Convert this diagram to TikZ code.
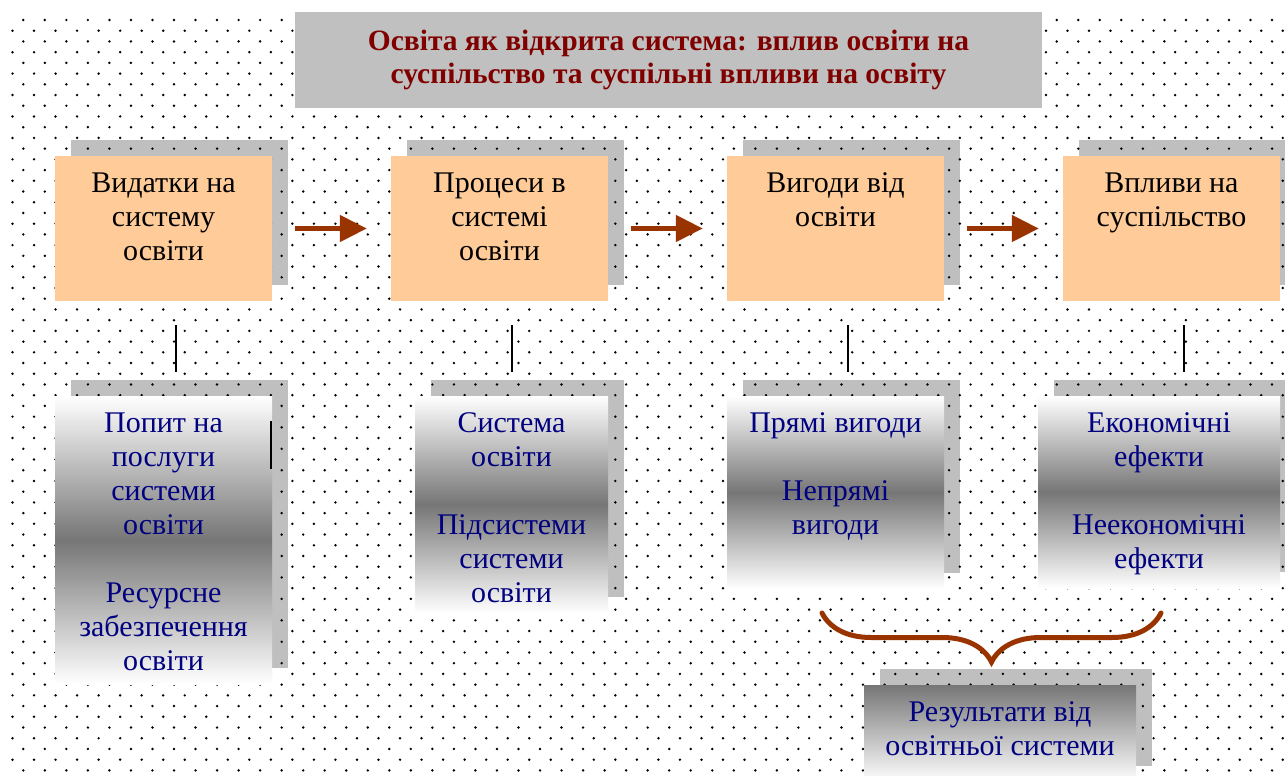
\documentclass[tikz,border=0pt]{standalone}
\usepackage{fontspec}
\setmainfont{Liberation Serif}
\usepackage{tikz}
\usetikzlibrary{arrows.meta,positioning,shadows,decorations.pathreplacing}
\definecolor{boxorange}{HTML}{FFCC99}
\definecolor{arrowbrown}{HTML}{993300}
\definecolor{titlered}{HTML}{800000}
\definecolor{textnavy}{HTML}{000080}
\definecolor{panelgray}{HTML}{C0C0C0}
\definecolor{midgray}{HTML}{767676}
\begin{document}
\begin{tikzpicture}[x=1pt,y=-1pt,node distance=336pt]
\tikzstyle{backshadow}=[drop shadow={shadow xshift=16pt,shadow yshift=16pt,fill=black,opacity=.25}]
\tikzstyle{upper}=[rectangle,fill=boxorange,minimum width=217pt,minimum height=145pt,inner sep=0,backshadow]
\tikzstyle{lower}=[rectangle,top color=white,bottom color=white,middle color=midgray,inner sep=0,backshadow]
\tikzstyle{words}=[align=center,inner sep=0,anchor=north,font=\fontsize{30}{34}\selectfont]
\tikzstyle{flow}=[-{Triangle[length=27pt,width=26pt]},line width=5pt,draw=arrowbrown,shorten <=23pt,shorten >=24pt]
\tikzstyle{link}=[line width=2pt,shorten <=24pt,shorten >=24pt]
\tikzstyle{curly}=[decorate,decoration={brace,mirror,amplitude=49pt},line width=5pt,draw=arrowbrown,line cap=round]
\useasboundingbox[fill=white] (0,0) rectangle (1285,776);
\foreach \j in {0,...,71}{
  \pgfmathsetmacro{\dy}{20+10.72*\j}
  \pgfmathsetmacro{\dx}{mod(\j,2)==1 ? 12.5 : 23.3}
  \foreach \i in {0,...,59}
    \fill[black] (\dx+21.53*\i,\dy) circle (1.35);
}
\node[fill=panelgray,minimum width=747pt,minimum height=96pt] (title) at (668.5,60) {};
\node[words,text=titlered,font=\bfseries\fontsize{29.5}{33}\selectfont,below=18pt of title.north] (titletext) {Освіта як відкрита система: вплив освіти на\\ суспільство та суспільні впливи на освіту};
\node[upper] (t1) at (163.5,228.5) {};
\node[upper] (t2) [right of=t1] {};
\node[upper] (t3) [right of=t2] {};
\node[upper] (t4) [right of=t3] {};
\node[words,below=17pt of t1.north] (t1text) {Видатки на\\ систему\\ освіти};
\node[words,below=17pt of t2.north] (t2text) {Процеси в\\ системі\\ освіти};
\node[words,below=17pt of t3.north] (t3text) {Вигоди від\\ освіти};
\node[words,below=17pt of t4.north] (t4text) {Впливи на\\ суспільство};
\node[lower,minimum width=217pt,minimum height=288pt] (b1) at (163.5,540) {};
\node[lower,minimum width=193pt,minimum height=217pt] (b2) at (511.5,504.5) {};
\node[lower,minimum width=217pt,minimum height=193pt] (b3) at (835.5,492.5) {};
\node[lower,minimum width=242pt,minimum height=192pt] (b4) at (1159,492) {};
\node[words,text=textnavy,below=17pt of b1.north] (b1text) {Попит на\\ послуги\\ системи\\ освіти\\[34pt] Ресурсне\\ забезпечення\\ освіти};
\node[words,text=textnavy,below=17pt of b2.north] (b2text) {Система\\ освіти\\[34pt] Підсистеми\\ системи\\ освіти};
\node[words,text=textnavy,below=17pt of b3.north] (b3text) {Прямі вигоди\\[34pt] Непрямі\\ вигоди};
\node[words,text=textnavy,below=17pt of b4.north] (b4text) {Економічні\\ ефекти\\[34pt] Неекономічні\\ ефекти};
\draw[line width=2pt] ([xshift=-1.5pt]b1.north east) ++(0,25) -- ++(0,48);
\path (t1) edge[flow] (t2)
	(t2) edge[flow] (t3)
	(t3) edge[flow] (t4);
\coordinate (d1) at ([xshift=12pt]t1.south);
\coordinate (d2) at ([xshift=12pt]t2.south);
\coordinate (d3) at ([xshift=12pt]t3.south);
\coordinate (d4) at ([xshift=12pt]t4.south);
\path (d1) edge[link] (d1 |- b1.north)
	(d2) edge[link] (d2 |- b2.north)
	(d3) edge[link] (d3 |- b3.north)
	(d4) edge[link] (d4 |- b4.north);
\coordinate (bl) at (822,613);
\coordinate (br) at (1161,613);
\draw[curly] (bl) -- (br);
\node[rectangle,top color=midgray,bottom color=white,inner sep=0,backshadow,minimum width=272pt,minimum height=97pt] (res) at (1000,733.5) {};
\node[words,text=textnavy,below=17pt of res.north] (restext) {Результати від\\ освітньої системи};
\end{tikzpicture}
\end{document}
